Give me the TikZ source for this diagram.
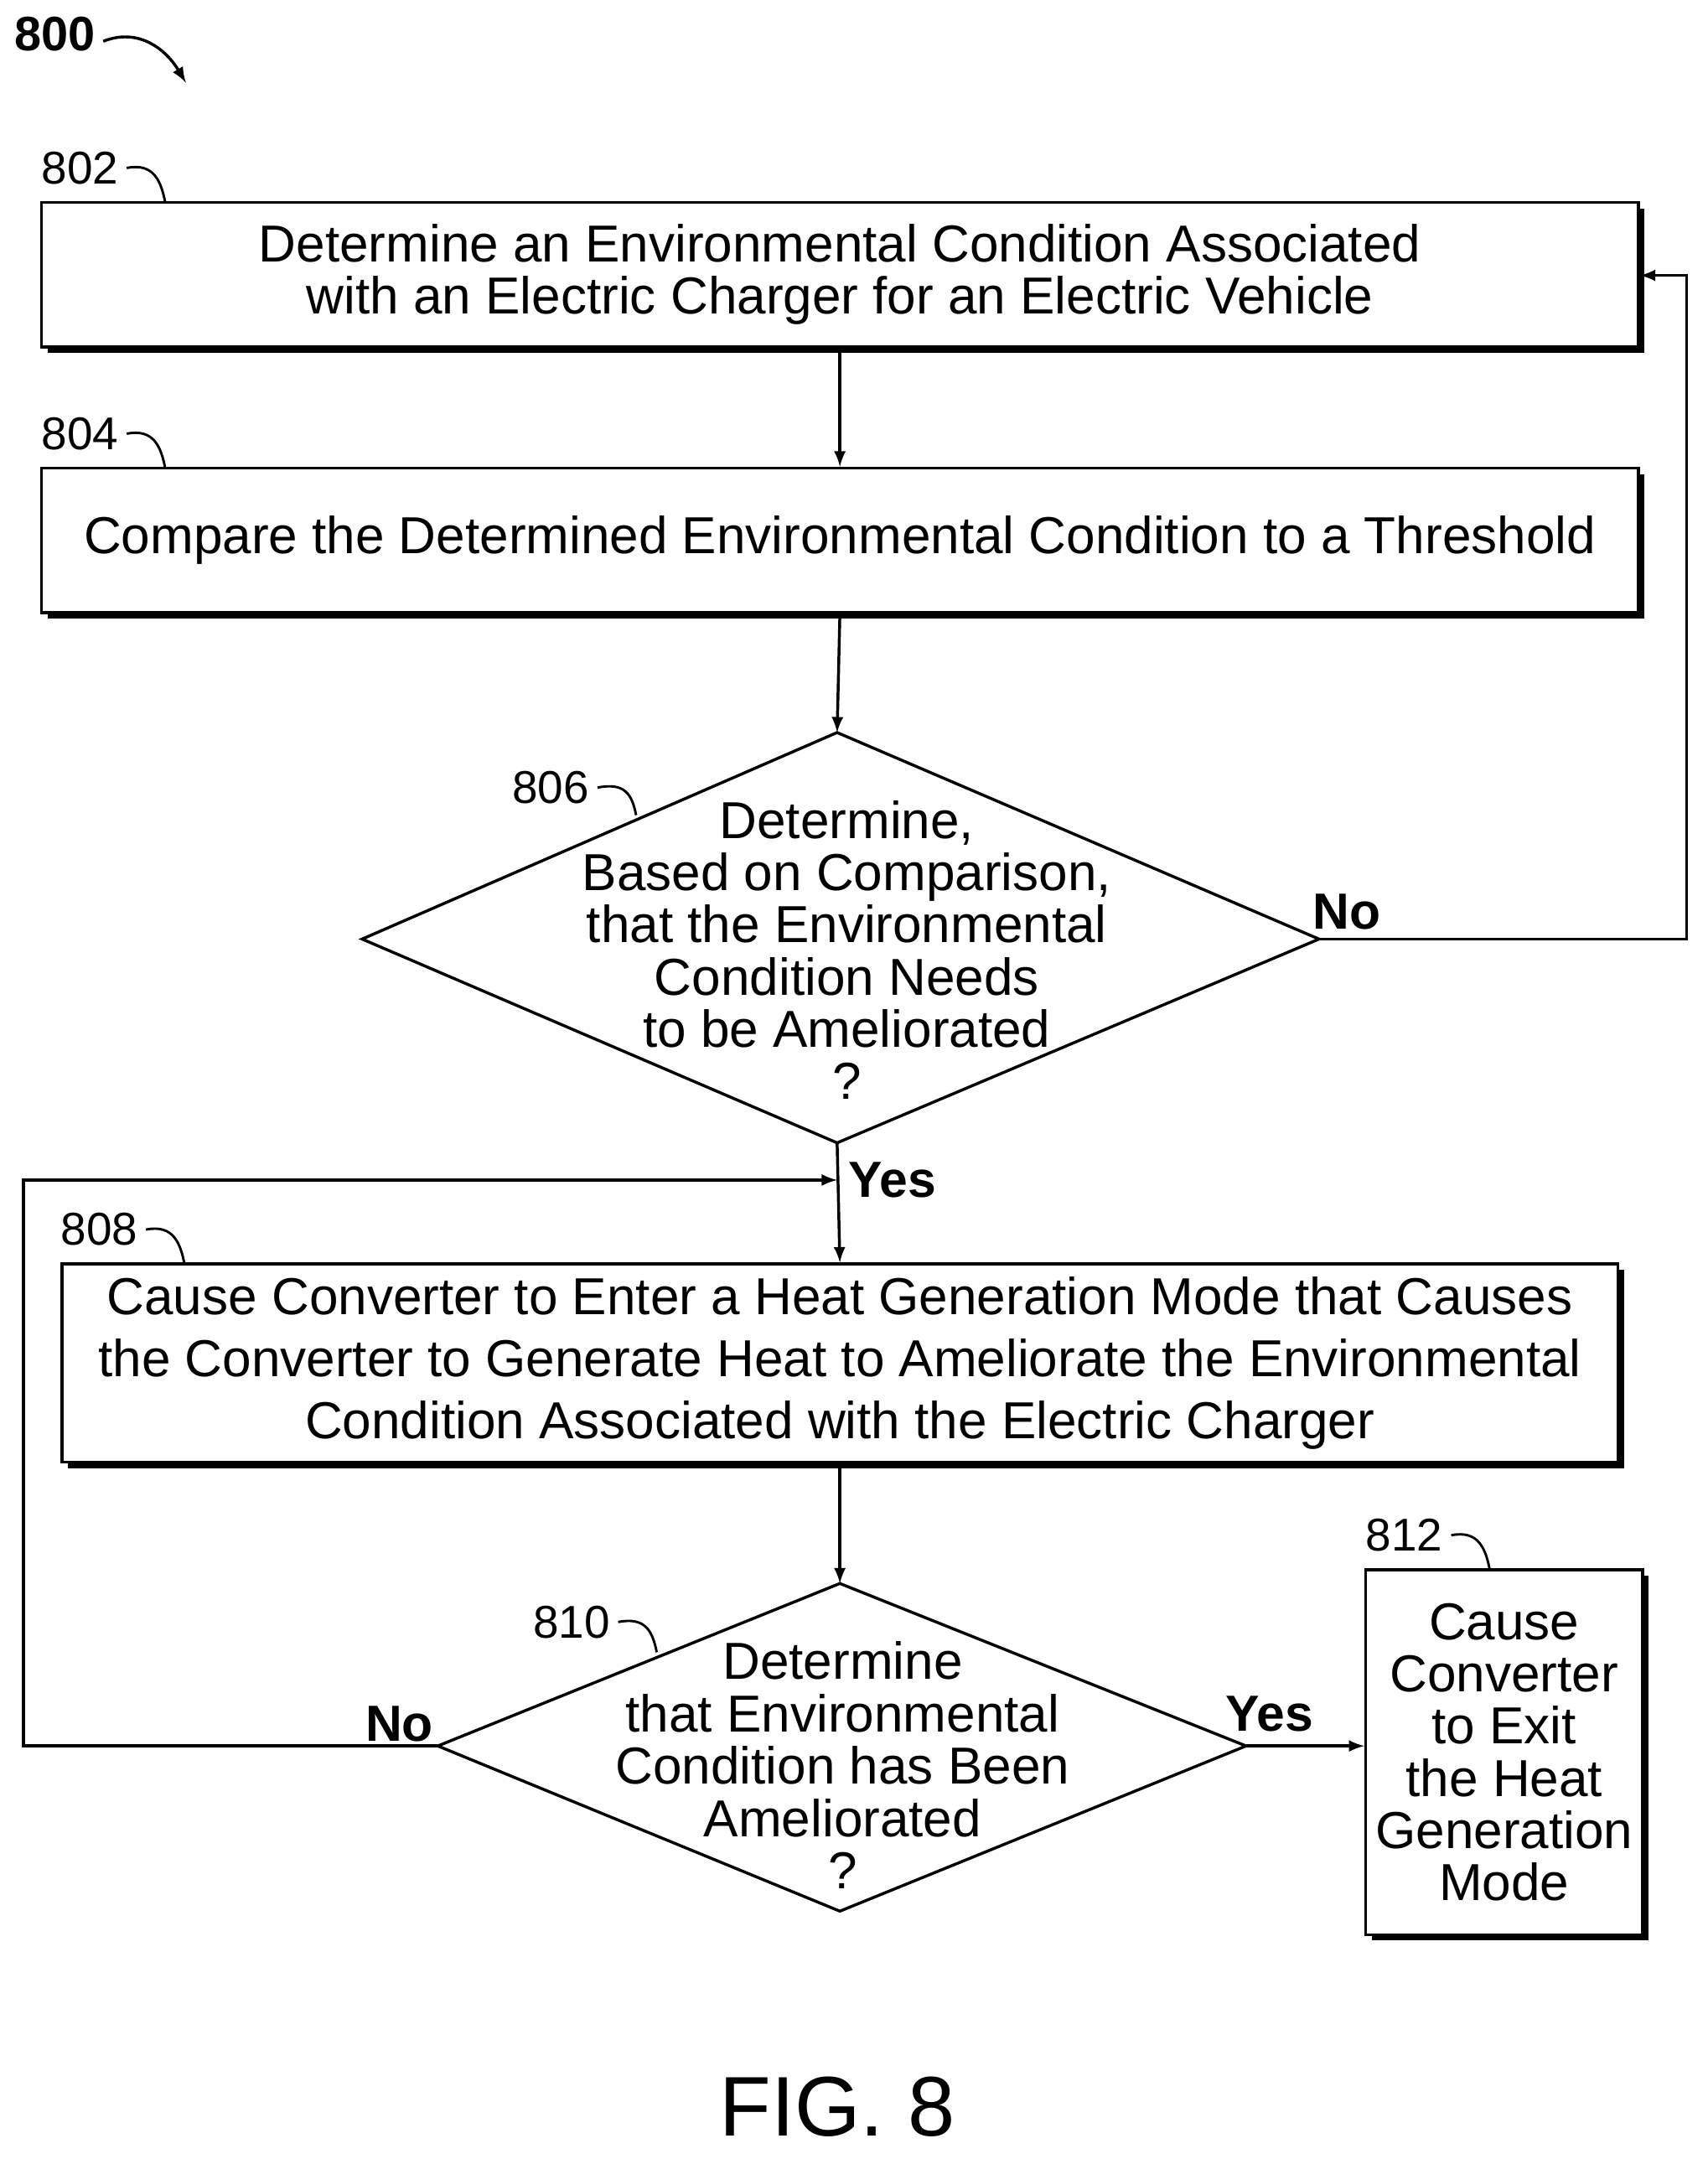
\documentclass[tikz,border=0pt]{standalone}
\usepackage{fontspec}
\setmainfont{Liberation Sans}
\usetikzlibrary{shadows,calc}
\tikzset{
  box/.style={draw,line width=1.2pt,fill=white,align=center,inner sep=0pt,
    drop shadow={shadow xshift=2.5pt,shadow yshift=-2.5pt,opacity=1,fill=black}},
  txt/.style={align=center,font=\fontsize{21.5}{21.6}\selectfont},
  ref/.style={font=\fontsize{19}{22}\selectfont},
  yn/.style={font=\fontsize{21}{24}\selectfont\bfseries},
  flow/.style={line width=1.2pt,-latex},
}
\begin{document}
\begin{tikzpicture}[x=0.02cm,y=-0.02cm]
\useasboundingbox (0,0) rectangle (1240,1568);

\node[font=\fontsize{20}{22}\selectfont\bfseries] (n800) at (40,25) {800};
\draw[line width=1.2pt,-latex] (75,30) .. controls (100,20) and (120,35) .. (135,60);

% boxes
\node[box,minimum width=1160*0.02cm,minimum height=105*0.02cm] (b802) at (610,199.5) {};
\node[txt] at (b802) {Determine an Environmental Condition Associated\\with an Electric Charger for an Electric Vehicle};
\node[box,minimum width=1160*0.02cm,minimum height=105*0.02cm] (b804) at (610,392.5) {};
\node[txt] at (b804) {Compare the Determined Environmental Condition to a Threshold};
\node[box,minimum width=1130*0.02cm,minimum height=144*0.02cm] (b808) at (610,990) {};
\node[txt,font=\fontsize{21.5}{25.5}\selectfont] at (b808) {Cause Converter to Enter a Heat Generation Mode that Causes\\the Converter to Generate Heat to Ameliorate the Environmental\\Condition Associated with the Electric Charger};
\node[box,minimum width=201*0.02cm,minimum height=265*0.02cm] (b812) at (1092.5,1272.5) {};
\node[txt] at (b812) {Cause\\Converter\\to Exit\\the Heat\\Generation\\Mode};

% diamonds
\coordinate (d806t) at (608,532); \coordinate (d806l) at (263,682);
\coordinate (d806r) at (958,682); \coordinate (d806b) at (608,830);
\draw[line width=1.2pt,fill=white] (d806t) -- (d806r) -- (d806b) -- (d806l) -- cycle;
\node[txt] (d806) at (615,690) {Determine,\\Based on Comparison,\\that the Environmental\\Condition Needs\\to be Ameliorated\\?};
\coordinate (d810t) at (610,1150); \coordinate (d810l) at (318,1268);
\coordinate (d810r) at (905,1268); \coordinate (d810b) at (610,1388);
\draw[line width=1.2pt,fill=white] (d810t) -- (d810r) -- (d810b) -- (d810l) -- cycle;
\node[txt] (d810) at (612,1282) {Determine\\that Environmental\\Condition has Been\\Ameliorated\\?};

% reference numerals
\foreach \n/\x/\y in {802/58/122,804/58/315,806/400/572,808/72/893,810/415/1178,812/1020/1115}
  \node[ref] (r\n) at (\x,\y) {\n};
\foreach \x/\y/\ex/\ey in {92/122/120/147,92/315/120/340,434/572/462/592,106/893/134/918,449/1178/477/1200,1054/1115/1082/1140}
  \draw[line width=1pt] (\x,\y) .. controls (\x+20,\y-4) and (\ex-3,\ey-15) .. (\ex,\ey);

% connectors
\draw[flow] (b802.south) -- (b804.north);
\draw[flow] (b804.south) -- (d806t);
\draw[flow] (d806b) -- (b808.north);
\draw[flow] (d806r) -- (1225,682) -- (1225,200) -- (b802.east|-0,200);
\draw[flow] (b808.south) -- (d810t);
\draw[flow] (d810r) -- (b812.west|-d810r);
\draw[flow] (d810l) -- (17,1268) -- (17,857) -- (608,857);

\node[yn] at (978,662) {No};
\node[yn] at (648,857) {Yes};
\node[yn] at (922,1245) {Yes};
\node[yn] at (290,1252) {No};

\node[font=\fontsize{35}{38}\selectfont] (fig) at (608,1530) {FIG. 8};
\end{tikzpicture}
\end{document}
